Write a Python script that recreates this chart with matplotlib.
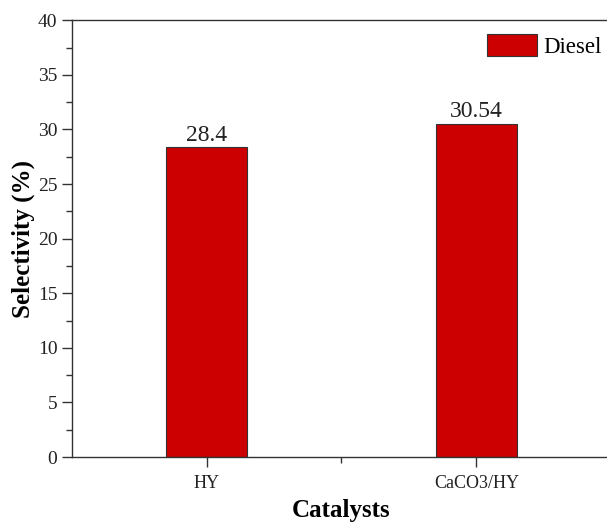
import matplotlib
matplotlib.use('Agg')
import matplotlib.pyplot as plt
from matplotlib.ticker import MultipleLocator, FixedLocator

plt.rcParams['font.family'] = ['Liberation Serif', 'DejaVu Serif']

# 数据
catalysts = ['HY', 'CaCO3/HY']
diesel = [28.4, 30.54]
value_labels = ['28.4', '30.54']

fig = plt.figure(figsize=(6.07, 5.25), dpi=100)
ax = fig.add_axes([0.1186, 0.1295, 0.888, 0.832])

x = [1, 2]
ax.bar(x, diesel, width=0.3, color='#cc0000', edgecolor='#333333', linewidth=0.8, label='Diesel')
for a, b, s in zip(x, diesel, value_labels):
    ax.text(a, b + 0.1, s, ha='center', va='bottom', fontsize=17, color='#222222')

ax.set_xlim(0.5, 2.5)
ax.set_ylim(0, 40)
ax.set_xticks(x)
ax.set_xticklabels(catalysts, fontsize=13)
ax.xaxis.set_minor_locator(FixedLocator([1.5]))
ax.yaxis.set_major_locator(MultipleLocator(5))
ax.yaxis.set_minor_locator(MultipleLocator(2.5))
ax.tick_params(axis='both', which='major', direction='out', length=7, width=1, labelsize=14, colors='#333333', labelcolor='#222222')
ax.tick_params(axis='both', which='minor', direction='out', length=4, width=1, colors='#333333')
ax.tick_params(axis='x', which='major', labelsize=13, pad=6)

for sp in ax.spines.values():
    sp.set_color('#333333')
    sp.set_linewidth(1)

ax.set_ylabel('Selectivity (%)', fontsize=18, fontweight='bold', labelpad=2)
ax.set_xlabel('Catalysts', fontsize=18, fontweight='bold', labelpad=5)

ax.legend(loc='upper right', bbox_to_anchor=(1.0, 0.99), fontsize=16.5, frameon=False,
          handlelength=2.15, handleheight=1.15, handletextpad=0.3, borderaxespad=0.0)

fig.savefig('out.png', dpi=100)
